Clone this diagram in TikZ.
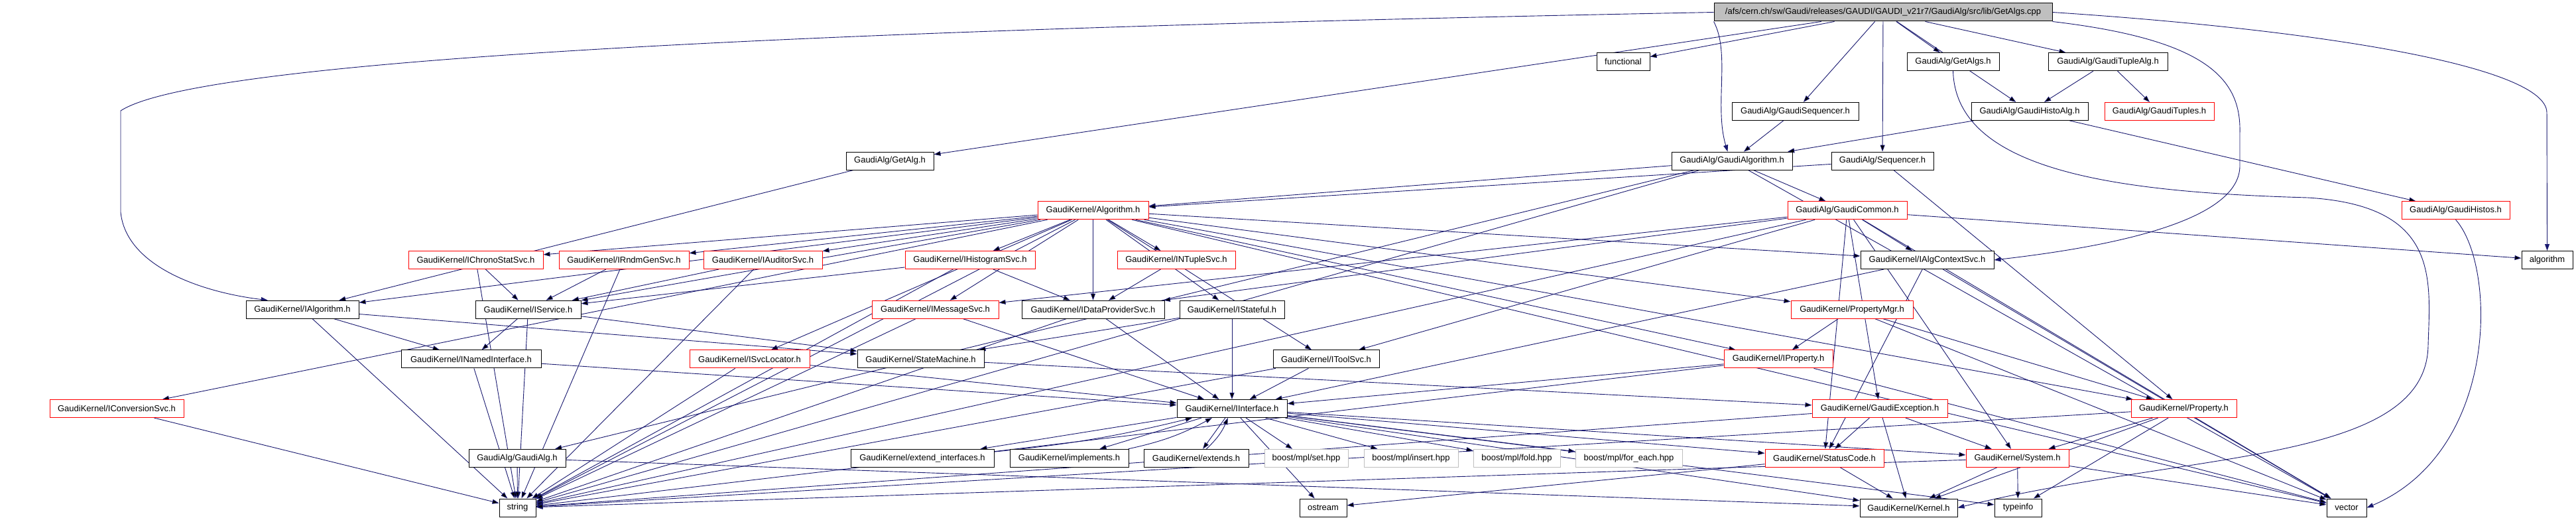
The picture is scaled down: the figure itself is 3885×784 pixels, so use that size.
\documentclass[tikz,border=0pt]{standalone}
\usepackage{fontspec}
\setmainfont{Liberation Sans}
\usetikzlibrary{arrows.meta,backgrounds}
\definecolor{edgeblue}{HTML}{191970}
\definecolor{boxgray}{HTML}{BFBFBF}

\begin{document}
\begin{tikzpicture}[x=1pt,y=-1pt,>={Triangle[length=10pt,width=7pt]},
  file/.style={draw=black,fill=white,line width=1pt,minimum height=27pt,
    inner sep=0pt,font=\fontsize{13}{15}\selectfont},
  trunc/.style={file,draw=red},
  sysfile/.style={file,draw=boxgray},
  dep/.style={draw=edgeblue,line width=0.9pt,->}]
  \useasboundingbox (0,0) rectangle (3885,784);

  % 第0-4层
  \node[file,fill=boxgray,minimum width=510pt] (root) at (2840,18.5)
    {/afs/cern.ch/sw/Gaudi/releases/GAUDI/GAUDI\_v21r7/GaudiAlg/src/lib/GetAlgs.cpp};
  \node[file,minimum width=80pt]  (functional) at (2448,93.2) {functional};
  \node[file,minimum width=139pt] (getalgs)    at (2945.5,93.2) {GaudiAlg/GetAlgs.h};
  \node[file,minimum width=180pt] (gtuplealg)  at (3179,93.2) {GaudiAlg/GaudiTupleAlg.h};
  \node[file,minimum width=191pt] (gseq)       at (2707.5,167.9) {GaudiAlg/GaudiSequencer.h};
  \node[file,minimum width=176pt] (ghistoalg)  at (3061,167.9) {GaudiAlg/GaudiHistoAlg.h};
  \node[trunc,minimum width=165pt] (gtuples)   at (3256.5,167.9) {GaudiAlg/GaudiTuples.h};
  \node[file,minimum width=132pt] (getalg)     at (1342,242.6) {GaudiAlg/GetAlg.h};
  \node[file,minimum width=182pt] (galgo)      at (2612,242.6) {GaudiAlg/GaudiAlgorithm.h};
  \node[file,minimum width=154pt] (seq)        at (2839,242.6) {GaudiAlg/Sequencer.h};
  \node[trunc,minimum width=167pt] (alg)       at (1648.5,317.3) {GaudiKernel/Algorithm.h};
  \node[trunc,minimum width=180pt] (gcommon)   at (2786,317.3) {GaudiAlg/GaudiCommon.h};
  \node[trunc,minimum width=163pt] (ghistos)   at (3703.5,317.3) {GaudiAlg/GaudiHistos.h};

  % 第5-7层
  \node[trunc,minimum width=203pt] (ichrono)   at (717.5,392) {GaudiKernel/IChronoStatSvc.h};
  \node[trunc,minimum width=196pt] (irndm)     at (941,392) {GaudiKernel/IRndmGenSvc.h};
  \node[trunc,minimum width=179pt] (iaud)      at (1150.5,392) {GaudiKernel/IAuditorSvc.h};
  \node[trunc,minimum width=196pt] (ihist)     at (1463,392) {GaudiKernel/IHistogramSvc.h};
  \node[trunc,minimum width=178pt] (intuple)   at (1774,392) {GaudiKernel/INTupleSvc.h};
  \node[file,minimum width=201pt]  (ialgctx)   at (2906.5,392) {GaudiKernel/IAlgContextSvc.h};
  \node[file,minimum width=77pt]   (algo)      at (3841.5,392) {algorithm};
  \node[file,minimum width=170pt]  (ialg)      at (456,466.7) {GaudiKernel/IAlgorithm.h};
  \node[file,minimum width=159pt]  (iserv)     at (796.5,466.7) {GaudiKernel/IService.h};
  \node[trunc,minimum width=191pt] (imsg)      at (1410.5,466.7) {GaudiKernel/IMessageSvc.h};
  \node[file,minimum width=215pt]  (idata)     at (1648.5,466.7) {GaudiKernel/IDataProviderSvc.h};
  \node[file,minimum width=158pt]  (istate)    at (1858,466.7) {GaudiKernel/IStateful.h};
  \node[trunc,minimum width=184pt] (propmgr)   at (2793,466.7) {GaudiKernel/PropertyMgr.h};
  \node[file,minimum width=211pt]  (inamed)    at (710.5,541.4) {GaudiKernel/INamedInterface.h};
  \node[trunc,minimum width=181pt] (isvcloc)   at (1130.5,541.4) {GaudiKernel/ISvcLocator.h};
  \node[file,minimum width=191pt]  (statem)    at (1388.5,541.4) {GaudiKernel/StateMachine.h};
  \node[file,minimum width=160pt]  (itool)     at (2000,541.4) {GaudiKernel/IToolSvc.h};
  \node[trunc,minimum width=164pt] (iprop)     at (2682,541.4) {GaudiKernel/IProperty.h};

  % 第8-10层
  \node[trunc,minimum width=202pt] (iconv)     at (176,616.1) {GaudiKernel/IConversionSvc.h};
  \node[file,minimum width=166pt]  (iinter)    at (1858,616.1) {GaudiKernel/IInterface.h};
  \node[trunc,minimum width=204pt] (gexc)      at (2835,616.1) {GaudiKernel/GaudiException.h};
  \node[trunc,minimum width=159pt] (prop)      at (3293.5,616.1) {GaudiKernel/Property.h};
  \node[file,minimum width=146pt]  (gaudialg)  at (780,690.8) {GaudiAlg/GaudiAlg.h};
  \node[file,minimum width=216pt]  (extint)    at (1391,690.8) {GaudiKernel/extend\_interfaces.h};
  \node[file,minimum width=179pt]  (impl)      at (1612.5,690.8) {GaudiKernel/implements.h};
  \node[file,minimum width=158pt]  (ext)       at (1804,690.8) {GaudiKernel/extends.h};
  \node[sysfile,minimum width=126pt] (mplset)  at (1970,690.8) {boost/mpl/set.hpp};
  \node[sysfile,minimum width=142pt] (mplins)  at (2128,690.8) {boost/mpl/insert.hpp};
  \node[sysfile,minimum width=131pt] (mplfold) at (2287.5,690.8) {boost/mpl/fold.hpp};
  \node[sysfile,minimum width=161pt] (mplfe)   at (2456.5,690.8) {boost/mpl/for\_each.hpp};
  \node[trunc,minimum width=179pt] (status)    at (2751.5,690.8) {GaudiKernel/StatusCode.h};
  \node[trunc,minimum width=155pt] (system)    at (3042.5,690.8) {GaudiKernel/System.h};
  \node[file,minimum width=55pt]   (string)    at (780.5,765.5) {string};
  \node[file,minimum width=71pt]   (ostream)   at (1995.5,765.5) {ostream};
  \node[file,minimum width=147pt]  (kernel)    at (2878.5,765.5) {GaudiKernel/Kernel.h};
  \node[file,minimum width=71pt]   (typeinfo)  at (3043.5,765.5) {typeinfo};
  \node[file,minimum width=60pt]   (vector)    at (3539,765.5) {vector};

  \begin{pgfonlayer}{background}
  \fill[white] (0,0) rectangle (3885,784);

  % 绕行的连线
  \draw[dep] (root.west) .. controls (1200,45) and (300,90) .. (182,167)
    -- (182,320) .. controls (190,400) and (300,440) .. (ialg.165);
  \draw[dep] (root.east) .. controls (3500,45) and (3841,100) .. (3841,170) -- (algo.north);
  \draw[dep] (root.south east) .. controls (3330,60) and (3380,120) .. (3378,200)
    -- (3378,250) .. controls (3378,330) and (3200,370) .. (ialgctx.east);
  \draw[dep] (getalgs.south) .. controls (2950,260) and (3200,290) .. (3480,298)
    .. controls (3680,310) and (3665,420) .. (3662,520)
    .. controls (3660,700) and (3300,680) .. (kernel.east);
  \draw[dep] (ghistos.south) .. controls (3765,400) and (3770,680) .. (vector.east);
  \draw[dep] (root.south west) .. controls (2610,80) and (2585,160) .. (galgo.115);

  % 其余连线
  \path[dep] (root) edge (functional) edge (getalgs) edge (gtuplealg) edge (gseq)
    edge (ghistoalg) edge (getalg) edge (seq);
  \path[dep] (gtuplealg) edge (ghistoalg) edge (gtuples);
  \path[dep] (gseq) edge (galgo);
  \path[dep] (ghistoalg) edge (galgo) edge (ghistos);
  \path[dep] (getalg) edge (ialg);
  \path[dep] (galgo) edge (alg) edge (gcommon) edge (gaudialg) edge (string) edge (vector);
  \path[dep] (seq) edge (alg) edge (prop);
  \path[dep] (alg) edge (ichrono) edge (irndm) edge (iaud) edge (ihist) edge (intuple)
    edge (ialgctx) edge (ialg) edge (iserv) edge (imsg) edge (idata) edge (istate)
    edge (propmgr) edge (isvcloc) edge (itool) edge (iprop) edge (iconv) edge (prop)
    edge (string) edge (vector);
  \path[dep] (gcommon) edge (ialgctx) edge (itool) edge (imsg) edge (idata) edge (string)
    edge (algo) edge (vector) edge (system) edge (gexc) edge (status);
  \path[dep] (ichrono) edge (iserv) edge (string);
  \path[dep] (irndm) edge (iserv) edge (string);
  \path[dep] (iaud) edge (iserv) edge (string);
  \path[dep] (ihist) edge (iserv) edge (idata) edge (string);
  \path[dep] (intuple) edge (idata);
  \path[dep] (ialgctx) edge (iinter) edge (status) edge (vector);
  \path[dep] (ialg) edge (inamed) edge (statem) edge (string);
  \path[dep] (iserv) edge (inamed) edge (statem) edge (string);
  \path[dep] (imsg) edge (iinter) edge (string);
  \path[dep] (idata) edge (iinter) edge (string);
  \path[dep] (istate) edge (iinter) edge (statem);
  \path[dep] (propmgr) edge (iprop) edge (prop) edge (vector);
  \path[dep] (inamed) edge (iinter) edge (string);
  \path[dep] (isvcloc) edge (iinter) edge (string);
  \path[dep] (statem) edge (gexc);
  \path[dep] (itool) edge (iinter) edge (string);
  \path[dep] (iprop) edge (iinter) edge (string) edge (vector);
  \path[dep] (iconv) edge (string);
  \path[dep] (iinter) edge (extint) edge (impl) edge (ext) edge (mplset) edge (mplins)
    edge (mplfold) edge (mplfe) edge (status) edge (system) edge (kernel)
    edge (ostream) edge (typeinfo);
  \path[dep] (extint) edge[bend right=4] (iinter);
  \path[dep] (impl) edge[bend right=8] (iinter);
  \path[dep] (ext) edge[bend right=12] (iinter);
  \path[dep] (gexc) edge (status) edge (kernel) edge (system) edge (string);
  \path[dep] (status) edge (kernel) edge (ostream);
  \path[dep] (system) edge (kernel) edge (typeinfo) edge (string) edge (vector);
  \path[dep] (prop) edge (system) edge (kernel) edge (typeinfo) edge (string);
  \path[dep] (gaudialg) edge (string) edge (kernel);
  \end{pgfonlayer}
\end{tikzpicture}
\end{document}
